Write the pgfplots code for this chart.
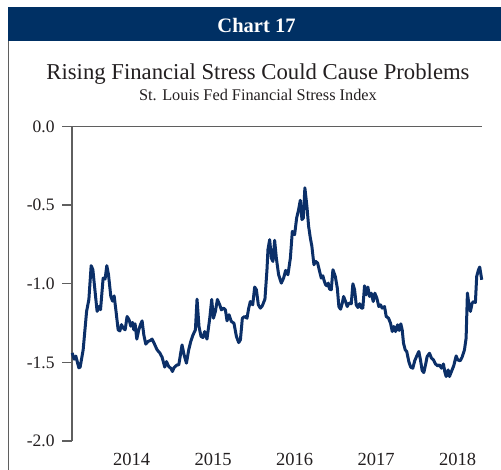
\documentclass[border=0pt]{standalone}
\usepackage{fontspec}
\setmainfont{Liberation Serif}
\usepackage{pgfplots}
\pgfplotsset{compat=1.18}
\definecolor{navy}{HTML}{003064}
\definecolor{linenavy}{HTML}{0B2F68}
\definecolor{framegray}{HTML}{5F5F5F}
\definecolor{txt}{HTML}{231F20}

\begin{document}
\begin{tikzpicture}
\path[use as bounding box] (0,0) rectangle (501pt,-470pt);
% header band and frame
\fill[navy] (8pt,-7pt) rectangle (501pt,-41.5pt);
\node[white, font=\fontsize{20.5}{24}\selectfont\bfseries] at (256.5pt,-25pt) {Chart 17};
\draw[framegray, line width=1.3pt] (8.5pt,-41pt) -- (8.5pt,-470pt);
\node[txt, font=\fontsize{22.7}{26}\selectfont, anchor=base] at (258pt,-79.5pt) {Rising Financial Stress Could Cause Problems};
\node[txt, font=\fontsize{16.3}{19}\selectfont, anchor=base] at (258pt,-100.5pt) {St. Louis Fed Financial Stress Index};

\begin{axis}[
  at={(72pt,-441pt)}, anchor=south west,
  scale only axis, width=410pt, height=314.5pt,
  xmin=2013.27, xmax=2018.30, ymin=-2, ymax=0,
  clip=false,
  axis y line=left, axis x line*=bottom,
  x axis line style={draw=none},
  y axis line style={-, framegray, line width=1.3pt},
  tick align=outside, major tick length=10pt,
  xtick={2014,2015,2016,2017,2018},
  xticklabels={2014,2015,2016,2017,2018},
  xtick style={draw=none},
  ytick style={framegray, line width=1.3pt},
  ytick={-2,-1.5,-1,-0.5}, yticklabels={-2.0,-1.5,-1.0,-0.5},
  extra y ticks={0}, extra y tick labels={0.0},
  extra y tick style={grid=major, major grid style={framegray, line width=1.3pt}},
  yticklabel style={font=\fontsize{17.5}{20}\selectfont, text=txt, xshift=-4pt},
  xticklabel style={font=\fontsize{18.5}{21}\selectfont, text=txt, yshift=1.5pt},
]
\addplot[linenavy, line width=3pt, line join=round] coordinates {
(2013.272,-1.44) (2013.297,-1.48) (2013.317,-1.46) (2013.354,-1.535) (2013.370,-1.53)
(2013.407,-1.42) (2013.449,-1.176) (2013.477,-1.10) (2013.505,-0.885) (2013.526,-0.91)
(2013.559,-1.08) (2013.578,-1.176) (2013.599,-1.145) (2013.620,-1.165) (2013.652,-0.964)
(2013.676,-0.97) (2013.697,-0.885) (2013.718,-0.943) (2013.746,-1.08) (2013.767,-1.11)
(2013.787,-1.077) (2013.808,-1.166) (2013.836,-1.293) (2013.857,-1.30) (2013.877,-1.26)
(2013.897,-1.28) (2013.922,-1.293) (2013.946,-1.208) (2013.971,-1.23) (2013.991,-1.27)
(2014.012,-1.246) (2014.028,-1.293) (2014.044,-1.255) (2014.065,-1.352) (2014.089,-1.293)
(2014.110,-1.26) (2014.130,-1.236) (2014.151,-1.325) (2014.175,-1.384) (2014.203,-1.367)
(2014.233,-1.36) (2014.252,-1.352) (2014.277,-1.378) (2014.314,-1.42) (2014.347,-1.44)
(2014.375,-1.467) (2014.408,-1.53) (2014.429,-1.495) (2014.457,-1.527) (2014.482,-1.537)
(2014.502,-1.558) (2014.522,-1.533) (2014.559,-1.516) (2014.580,-1.516) (2014.620,-1.389)
(2014.645,-1.452) (2014.674,-1.505) (2014.702,-1.42) (2014.727,-1.367) (2014.755,-1.325)
(2014.784,-1.293) (2014.804,-1.098) (2014.828,-1.272) (2014.853,-1.335) (2014.877,-1.342)
(2014.898,-1.304) (2014.926,-1.352) (2014.960,-1.219) (2014.984,-1.10) (2015.005,-1.219)
(2015.029,-1.176) (2015.054,-1.10) (2015.082,-1.134) (2015.103,-1.166) (2015.131,-1.155)
(2015.152,-1.166) (2015.172,-1.236) (2015.196,-1.197) (2015.225,-1.240) (2015.257,-1.251)
(2015.287,-1.335) (2015.315,-1.374) (2015.336,-1.357) (2015.360,-1.219) (2015.388,-1.208)
(2015.417,-1.219) (2015.438,-1.155) (2015.458,-1.113) (2015.487,-1.134) (2015.511,-1.021)
(2015.532,-1.038) (2015.556,-1.134) (2015.581,-1.155) (2015.605,-1.140) (2015.637,-1.098)
(2015.662,-0.911) (2015.674,-0.783) (2015.695,-0.72) (2015.716,-0.837) (2015.735,-0.858)
(2015.756,-0.724) (2015.777,-0.837) (2015.805,-0.943) (2015.838,-0.996) (2015.866,-0.964)
(2015.891,-0.915) (2015.919,-0.943) (2015.949,-0.837) (2015.973,-0.667) (2016.001,-0.688)
(2016.026,-0.582) (2016.050,-0.529) (2016.071,-0.469) (2016.091,-0.592) (2016.108,-0.582)
(2016.127,-0.390) (2016.152,-0.508) (2016.173,-0.635) (2016.194,-0.709) (2016.213,-0.762)
(2016.238,-0.879) (2016.259,-0.858) (2016.283,-0.868) (2016.308,-0.922) (2016.328,-0.964)
(2016.348,-0.949) (2016.360,-0.975) (2016.381,-1.006) (2016.397,-1.013) (2016.414,-0.996)
(2016.430,-1.034) (2016.451,-1.038) (2016.471,-0.911) (2016.500,-0.953) (2016.525,-1.028)
(2016.544,-1.145) (2016.565,-1.162) (2016.586,-1.123) (2016.602,-1.081) (2016.626,-1.113)
(2016.647,-1.145) (2016.667,-1.123) (2016.696,-1.127) (2016.716,-1.0) (2016.737,-1.038)
(2016.757,-1.134) (2016.777,-1.151) (2016.798,-1.127) (2016.822,-1.155) (2016.838,-1.155)
(2016.859,-1.013) (2016.880,-1.070) (2016.900,-1.021) (2016.920,-1.081) (2016.941,-1.060)
(2016.966,-1.113) (2016.985,-1.060) (2017.010,-1.091) (2017.034,-1.145) (2017.055,-1.134)
(2017.076,-1.155) (2017.104,-1.145) (2017.125,-1.208) (2017.153,-1.219) (2017.178,-1.251)
(2017.199,-1.304) (2017.218,-1.272) (2017.239,-1.304) (2017.264,-1.261) (2017.284,-1.297)
(2017.304,-1.255) (2017.321,-1.293) (2017.337,-1.378) (2017.358,-1.420) (2017.377,-1.431)
(2017.402,-1.495) (2017.426,-1.531) (2017.451,-1.537) (2017.475,-1.489) (2017.500,-1.459)
(2017.525,-1.431) (2017.545,-1.484) (2017.566,-1.552) (2017.586,-1.565) (2017.607,-1.516)
(2017.627,-1.463) (2017.656,-1.442) (2017.680,-1.473) (2017.705,-1.484) (2017.729,-1.510)
(2017.757,-1.522) (2017.778,-1.516) (2017.803,-1.537) (2017.827,-1.510) (2017.843,-1.558)
(2017.860,-1.590) (2017.885,-1.548) (2017.901,-1.590) (2017.925,-1.558) (2017.953,-1.522)
(2017.983,-1.459) (2018.002,-1.484) (2018.032,-1.490) (2018.056,-1.467) (2018.085,-1.420)
(2018.105,-1.346) (2018.121,-1.059) (2018.137,-1.123) (2018.158,-1.176) (2018.179,-1.123)
(2018.199,-1.113) (2018.219,-1.119) (2018.235,-0.953) (2018.257,-0.911) (2018.272,-0.894)
(2018.297,-0.975)
};
\end{axis}
\end{tikzpicture}
\end{document}
